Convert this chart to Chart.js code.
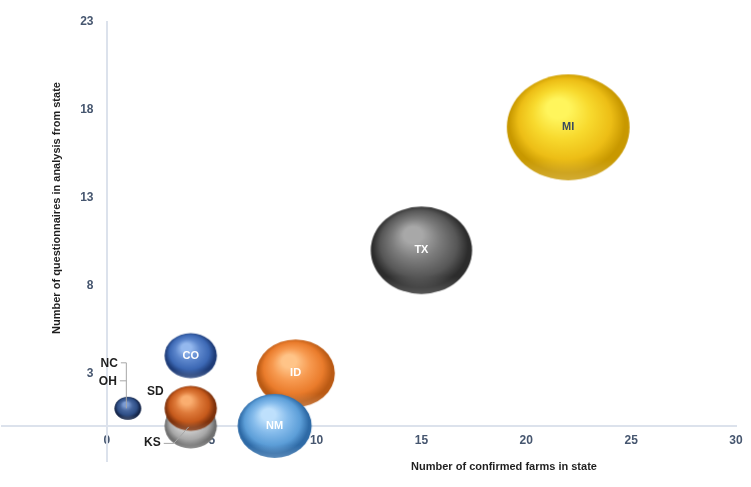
<!DOCTYPE html>
<html>
<head>
<meta charset="utf-8">
<script src="https://cdn.jsdelivr.net/npm/chart.js@4"></script>
<style>
  html, body { margin: 0; padding: 0; background: #fff; }
  #wrap { width: 751px; height: 487px; position: relative; }
</style>
</head>
<body>
<div id="wrap"><canvas id="chart"></canvas></div>
<script>
// values
const states = ["MI", "TX", "ID", "NM", "CO", "KS", "SD", "NC", "OH"];
const confirmedFarms = [22, 15, 9, 8, 4, 4, 4, 1, 1];
const questionnaires = [17, 10, 3, 0, 4, 0, 1, 1, 1];
const bubbleSize = [22, 15, 9, 8, 4, 4, 4, 1, 1];
const xTicks = [-5, 0, 5, 10, 15, 20, 25, 30];
const yTicks = [-2, 3, 8, 13, 18, 23];

// highlight, light, base, edge for each state
const colors = {
  MI: ["#FFF55C", "#F8DA2E", "#EDBE16", "#C89800"],
  TX: ["#A8A8A8", "#7C7C7C", "#575757", "#2C2C2C"],
  ID: ["#FFC488", "#F79A50", "#EA7C2C", "#BA5A14"],
  NM: ["#BEE0FC", "#86BCEC", "#5C9ED8", "#2E6AA6"],
  CO: ["#94B8EE", "#5C86CC", "#3C68B4", "#1E3C78"],
  KS: ["#F2F2F2", "#CDCDCD", "#A8A8A8", "#707070"],
  SD: ["#FAAE70", "#DE7A3A", "#C65A1C", "#7E320C"],
  NC: ["#7C9CD4", "#46669E", "#2E4E86", "#15264A"],
  OH: ["#7C9CD4", "#46669E", "#2E4E86", "#15264A"]
};

const points = states.map((s, i) => ({
  x: confirmedFarms[i],
  y: questionnaires[i],
  r: 57 * Math.sqrt(bubbleSize[i] / 22)
}));

// Excel draws the 3D bubbles a little wider than tall
const sprites = {};
const sphereSprite = (i, r) => {
  const key = i + ":" + r.toFixed(2);
  if (sprites[key]) return sprites[key];
  const c = colors[states[i]];
  const rx = r * 1.077, ry = r * 0.928;
  const cv = document.createElement("canvas");
  cv.width = Math.ceil(rx * 2) + 2;
  cv.height = Math.ceil(ry * 2) + 2;
  const g2 = cv.getContext("2d");
  g2.translate(cv.width / 2, cv.height / 2);
  g2.scale(rx / r, ry / r);
  const g = g2.createRadialGradient(-r * 0.2, -r * 0.42, 0, 0, -r * 0.05, r * 1.05);
  g.addColorStop(0, c[0]);
  g.addColorStop(0.18, c[0]);
  g.addColorStop(0.45, c[1]);
  g.addColorStop(0.72, c[2]);
  g.addColorStop(0.9, c[3]);
  g.addColorStop(1, c[3]);
  g2.fillStyle = g;
  g2.beginPath();
  g2.arc(0, 0, r, 0, Math.PI * 2);
  g2.fill();
  // soft light on the lower rim
  const lg = g2.createLinearGradient(0, r * 0.6, 0, r);
  lg.addColorStop(0, "rgba(255,255,255,0)");
  lg.addColorStop(1, "rgba(255,255,255,0.2)");
  g2.fillStyle = lg;
  g2.fill();
  sprites[key] = cv;
  return cv;
};

const tickColor = "#46566F";
const axisColor = "#DCE2EC";

// labels inside/outside the bubbles
const labelPlugin = {
  id: "labels",
  afterDatasetsDraw(chart) {
    const ctx = chart.ctx;
    const meta = chart.getDatasetMeta(0);
    ctx.save();
    ctx.textBaseline = "middle";
    meta.data.forEach((el, i) => {
      const s = states[i];
      const x = el.x, y = el.y;
      if (["MI", "TX", "ID", "NM", "CO"].includes(s)) {
        ctx.font = "bold 11px 'Liberation Sans', Arial, sans-serif";
        ctx.textAlign = "center";
        ctx.fillStyle = s === "MI" ? "#3A4A5E" : "#FFFFFF";
        ctx.fillText(s, x, y);
        return;
      }
      ctx.strokeStyle = "#A6A6A6";
      ctx.lineWidth = 1;
      ctx.fillStyle = "#1F1F1F";
      ctx.font = "bold 12px 'Liberation Sans', Arial, sans-serif";
      ctx.textAlign = "right";
      if (s === "NC") {
        ctx.fillText(s, x - 10, y - 45);
        ctx.beginPath();
        ctx.moveTo(x - 7, y - 45.5);
        ctx.lineTo(x - 1.5, y - 45.5);
        ctx.lineTo(x - 1.5, y);
        ctx.stroke();
      } else if (s === "OH") {
        ctx.fillText(s, x - 11, y - 27);
        ctx.beginPath();
        ctx.moveTo(x - 8, y - 27.5);
        ctx.lineTo(x - 1.5, y - 27.5);
        ctx.stroke();
      } else if (s === "SD") {
        ctx.fillText(s, x - 27, y - 17);
      } else if (s === "KS") {
        ctx.fillText(s, x - 30, y + 17);
        ctx.beginPath();
        ctx.moveTo(x - 27, y + 17.5);
        ctx.lineTo(x - 17, y + 17.5);
        ctx.lineTo(x - 2, y + 1);
        ctx.stroke();
      }
    });
    ctx.restore();
  }
};

// axis titles
const titlePlugin = {
  id: "axisTitles",
  afterDraw(chart) {
    const ctx = chart.ctx;
    ctx.save();
    ctx.fillStyle = "#1F1F1F";
    ctx.font = "bold 11px 'Liberation Sans', Arial, sans-serif";
    ctx.textAlign = "center";
    ctx.textBaseline = "middle";
    ctx.fillText("Number of confirmed farms in state", 504, 467, 216);
    ctx.translate(57, 208);
    ctx.rotate(-Math.PI / 2);
    ctx.fillText("Number of questionnaires in analysis from state", 0, 0, 258);
    ctx.restore();
  }
};

new Chart(document.getElementById("chart"), {
  type: "bubble",
  data: {
    labels: states,
    datasets: [{
      data: points,
      pointStyle: ctx => (ctx.raw ? sphereSprite(ctx.dataIndex, ctx.raw.r) : "circle"),
      backgroundColor: ctx => colors[states[ctx.dataIndex]][2],
      borderWidth: 0,
      hoverBorderWidth: 0
    }]
  },
  options: {
    responsive: true,
    maintainAspectRatio: false,
    animation: false,
    events: [],
    layout: { autoPadding: false, padding: { left: 2, right: 15, top: 22, bottom: 26 } },
    plugins: {
      legend: { display: false },
      tooltip: { enabled: false }
    },
    scales: {
      x: {
        type: "linear",
        position: { y: 0 },
        min: xTicks[0],
        max: xTicks[xTicks.length - 1],
        afterBuildTicks: axis => { axis.ticks = xTicks.map(v => ({ value: v })); },
        afterFit: axis => { axis.paddingLeft = 0; axis.paddingRight = 0; },
        grid: { color: "rgba(0,0,0,0)", drawTicks: false },
        border: { display: true, color: axisColor, width: 2 },
        ticks: {
          padding: 8,
          color: tickColor,
          font: { family: "'Liberation Sans', Arial, sans-serif", size: 12, weight: "bold" },
          callback: v => (v < 0 ? "" : v)
        }
      },
      y: {
        type: "linear",
        position: { x: 0 },
        min: yTicks[0],
        max: yTicks[yTicks.length - 1],
        afterBuildTicks: axis => { axis.ticks = yTicks.map(v => ({ value: v })); },
        grid: { color: "rgba(0,0,0,0)", drawTicks: false },
        border: { display: true, color: axisColor, width: 2 },
        ticks: {
          color: tickColor,
          font: { family: "'Liberation Sans', Arial, sans-serif", size: 12, weight: "bold" },
          // labels of an axis placed at x = 0 sit right on the line; figure spaces push them off it
          callback: v => (v < 0 ? "" : v + "\u2007\u2007")
        }
      }
    }
  },
  plugins: [labelPlugin, titlePlugin]
});
</script>
</body>
</html>
